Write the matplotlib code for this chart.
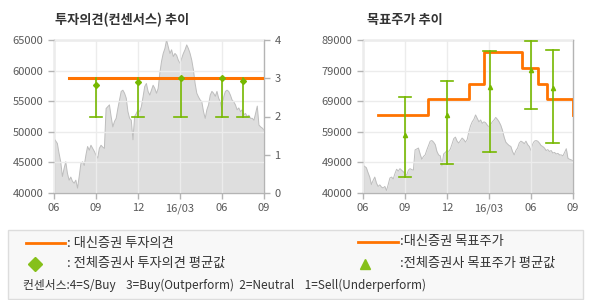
import numpy as np
import matplotlib
matplotlib.use("Agg")
import matplotlib.pyplot as plt
from matplotlib.patches import Rectangle
from matplotlib.lines import Line2D

plt.rcParams["font.family"] = ["Noto Sans CJK KR", "DejaVu Sans"]

# months since 2015-06 on x
tick_pos = [0, 3, 6, 9, 12, 15]
tick_labels = ["06", "09", "12", "16/03", "06", "09"]

# daily close (sampled), won
price = [
    48900, 48500, 48100, 46500, 45100, 42700, 44000, 45100, 43200, 42100,
    42600, 41900, 41600, 42100, 40800, 42700, 44800, 45100, 44500, 46200,
    47600, 47000, 47800, 47300, 46800, 46200, 45700, 47300, 47800, 47500,
    47300, 53800, 54100, 54400, 52500, 50800, 51700, 52200, 53800, 55200,
    56600, 56800, 56300, 55500, 53300, 52200, 51900, 48700, 52500, 53000,
    53600, 53300, 54100, 55700, 57400, 57900, 56600, 56000, 56800, 57600,
    57100, 56300, 57100, 59600, 61500, 62800, 63600, 65000, 63900, 62800,
    63400, 62300, 62800, 62500, 61700, 61200, 62000, 62800, 63400, 64200,
    63600, 62800, 61700, 60100, 57900, 56300, 55700, 55200, 54900, 53300,
    52200, 53600, 54400, 56000, 56600, 56300, 55800, 56600, 55500, 54900,
    53600, 55700, 56600, 56800, 56600, 56000, 55200, 54900, 54400, 53600,
    53900, 53300, 53600, 52800, 53000, 52500, 52700, 52200, 52200, 51900,
    53000, 54200, 51100, 50800, 50600, 50300,
]

# daishin opinion (3 = Buy)
opinion_start = 1.07
opinion_value = 3

# consensus opinion: month, min, max, average
cons_months = [3, 6, 9.05, 12, 13.5]
cons_min = [2, 2, 2, 2, 2]
cons_max = [3, 3, 3, 3, 3]
cons_avg = [2.82, 2.89, 3.0, 3.0, 2.93]

# daishin target price steps
target_months = [1.09, 4.62, 7.57, 8.62, 11.36, 12.48, 13.12, 15, 15]
target_prices = [65000, 70000, 75000, 85000, 80000, 75000, 70000, 70000, 65000]

# consensus target price: month, min, max, average
tp_months = [3, 6, 9.05, 12, 13.55]
tp_min = [45000, 49200, 53000, 67000, 56000]
tp_max = [70800, 76000, 85500, 88600, 85700]
tp_avg = [58600, 65100, 73800, 79400, 73500]

orange = "#ff7300"
green = "#76b800"
fill_c = "#dedede"
edge_c = "#bdbdbd"
grid_c = "#ececec"
spine_c = "#b4b4b4"
txt_c = "#5a5a5a"

fig = plt.figure(figsize=(5.9, 3.0), dpi=100)
x = np.linspace(0, 15, len(price))


def style_axes(ax):
    for s in ax.spines.values():
        s.set_color(spine_c)
        s.set_linewidth(1.0)
    ax.tick_params(colors=spine_c, labelcolor=txt_c, labelsize=8, length=4, width=1)
    ax.set_xlim(0, 15)
    ax.set_xticks(tick_pos)
    ax.set_xticklabels(tick_labels)
    ax.grid(True, color=grid_c, linewidth=1.0, zorder=2)
    ax.set_axisbelow(False)


def draw_price(ax):
    ax.fill_between(x, 0, price, color=fill_c, linewidth=0, zorder=1)
    ax.plot(x, price, color=edge_c, linewidth=0.7, zorder=1.5)


# left: opinion
ax1 = fig.add_axes([54 / 590, 107 / 300, 210 / 590, 153 / 300])
draw_price(ax1)
ax1.set_ylim(40000, 65000)
ax1.set_yticks(range(40000, 65001, 5000))
style_axes(ax1)

ax1b = ax1.twinx()
ax1b.set_ylim(0, 4)
ax1b.set_yticks([0, 1, 2, 3, 4])
for s in ax1b.spines.values():
    s.set_visible(False)
ax1b.tick_params(colors=spine_c, labelcolor=txt_c, labelsize=8, length=4, width=1)
ax1b.plot([opinion_start, 15], [opinion_value, opinion_value], color=orange, linewidth=2.2, zorder=3)
for m, lo, hi, av in zip(cons_months, cons_min, cons_max, cons_avg):
    ax1b.plot([m, m], [lo, hi], color=green, linewidth=1.2, zorder=4)
    ax1b.plot([m - 0.45, m + 0.45], [lo, lo], color=green, linewidth=1.2, zorder=4)
    ax1b.plot(m, av, marker="D", markersize=3, color=green, zorder=5)

fig.text(55 / 590, 1 - 20 / 300, "투자의견(컨센서스) 추이", fontsize=9.5, fontweight="bold",
         color="#333333", va="center", ha="left")

# right: target price
ax2 = fig.add_axes([363 / 590, 107 / 300, 210 / 590, 153 / 300])
draw_price(ax2)
ax2.set_ylim(40000, 89000)
ax2.set_yticks(np.linspace(40000, 89000, 6))
ax2.set_yticklabels(["40000", "49000", "59000", "69000", "79000", "89000"])
style_axes(ax2)
ax2.plot(target_months, target_prices, drawstyle="steps-post", color=orange, linewidth=2.0, zorder=3)
for m, lo, hi, av in zip(tp_months, tp_min, tp_max, tp_avg):
    ax2.plot([m, m], [lo, hi], color=green, linewidth=1.2, zorder=4)
    ax2.plot([m - 0.45, m + 0.45], [lo, lo], color=green, linewidth=1.2, zorder=4)
    ax2.plot([m - 0.45, m + 0.45], [hi, hi], color=green, linewidth=1.2, zorder=4)
    ax2.plot(m, av, marker="^", markersize=3, color=green, zorder=5)

fig.text(367 / 590, 1 - 20 / 300, "목표주가 추이", fontsize=9.5, fontweight="bold",
         color="#333333", va="center", ha="left")

# legend box
fig.patches.append(Rectangle((8 / 590, 1 - 299 / 300), 575 / 590, 69 / 300,
                             transform=fig.transFigure, facecolor="#f8f8f8",
                             edgecolor="#dddddd", linewidth=1.0))


def fy(py):
    return 1 - py / 300


fig.lines.append(Line2D([26 / 590, 65 / 590], [fy(243), fy(243)], transform=fig.transFigure,
                        color=orange, linewidth=2))
fig.lines.append(Line2D([358 / 590, 398 / 590], [fy(242), fy(242)], transform=fig.transFigure,
                        color=orange, linewidth=2))
fig.lines.append(Line2D([35 / 590], [fy(263.5)], transform=fig.transFigure, marker="D",
                        markersize=7, color="#86c01a", linestyle="none"))
fig.lines.append(Line2D([365.5 / 590], [fy(264)], transform=fig.transFigure, marker="^",
                        markersize=7, color="#86c01a", linestyle="none"))

leg_kw = dict(fontsize=9.5, color="#333333", va="center", ha="left")
fig.text(67 / 590, fy(243), ": 대신증권 투자의견", **leg_kw)
fig.text(67 / 590, fy(263.5), ": 전체증권사 투자의견 평균값", **leg_kw)
fig.text(400 / 590, fy(242), ":대신증권 목표주가", **leg_kw)
fig.text(400 / 590, fy(263.5), ":전체증권사 목표주가 평균값", **leg_kw)
fig.text(23 / 590, fy(285), "컨센서스:4=S/Buy    3=Buy(Outperform)  2=Neutral    1=Sell(Underperform)",
         fontsize=8.5, color="#333333", va="center", ha="left")

fig.savefig("out.png", dpi=100)
